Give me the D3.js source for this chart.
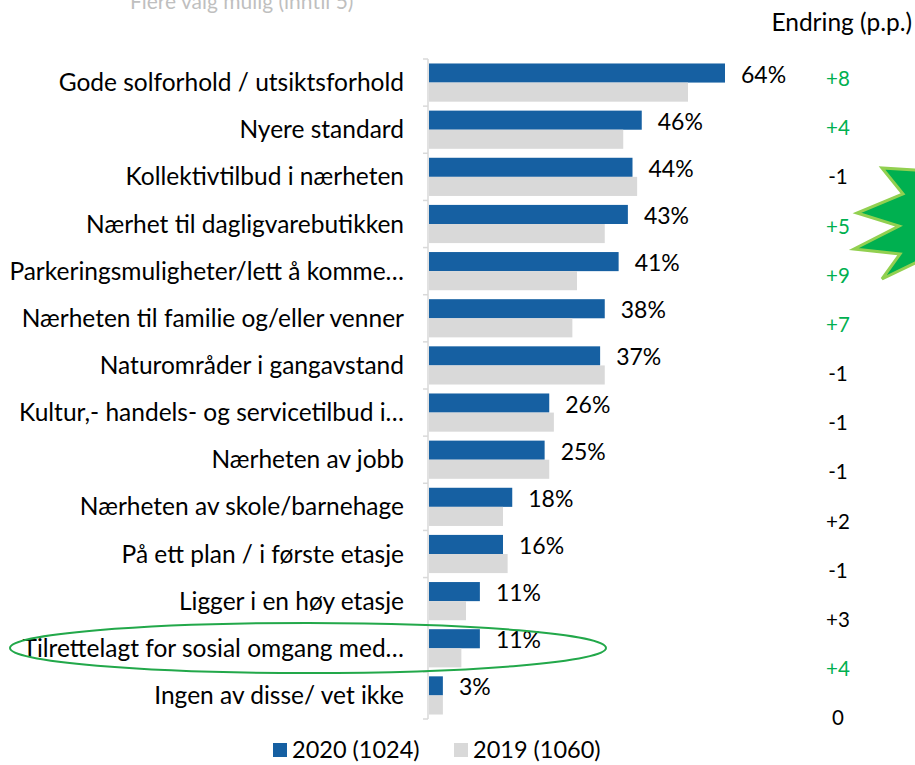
<!DOCTYPE html>
<html>
<head>
<meta charset="utf-8">
<title></title>
<script src="https://d3js.org/d3.v7.min.js"></script>
<style>
	body{ margin:0; background:#fff; }
	text{ font-family: Lato, "Open Sans", sans-serif; }
	.cat{ font-size:24.5px; fill:#000; }
	.val{ font-size:23px; fill:#000; }
	.chg{ font-size:20.5px; }
</style>
</head>
<body>
<svg width="915" height="765"></svg>
<script>
// data
var categories = [
	'Gode solforhold / utsiktsforhold',
	'Nyere standard',
	'Kollektivtilbud i nærheten',
	'Nærhet til dagligvarebutikken',
	'Parkeringsmuligheter/lett å komme…',
	'Nærheten til familie og/eller venner',
	'Naturområder i gangavstand',
	'Kultur,- handels- og servicetilbud i…',
	'Nærheten av jobb',
	'Nærheten av skole/barnehage',
	'På ett plan / i første etasje',
	'Ligger i en høy etasje',
	'Tilrettelagt for sosial omgang med…',
	'Ingen av disse/ vet ikke'
];
var values2020 = [64, 46, 44, 43, 41, 38, 37, 26, 25, 18, 16, 11, 11, 3];
var values2019 = [56, 42, 45, 38, 32, 31, 38, 27, 26, 16, 17, 8, 7, 3];
var changes = ['+8', '+4', '-1', '+5', '+9', '+7', '-1', '-1', '-1', '+2', '-1', '+3', '+4', '0'];
var significant = [true, true, false, true, true, true, false, false, false, false, false, false, true, false];
var series = ['2020 (1024)', '2019 (1060)'];

var blue = '#1660a2', grey = '#d9d9d9', green = '#00b050';

var svg = d3.select('svg');

var x = d3.scaleLinear().domain([0, 64]).range([428, 724]);
var y = d3.scaleBand().domain(categories).range([59, 719]).paddingInner(0.19).paddingOuter(0.095);
var ySub = d3.scaleBand().domain(series).range([0, y.bandwidth()]);
var yChg = d3.scalePoint().domain(categories).range([79, 718]);

// faded subtitle, cut at the top
svg.append('text')
	.attr('x', 130).attr('y', 9)
	.style('font-size', '21px').style('fill', '#bfbfbf')
	.text('Flere valg mulig (inntil 5)');

svg.append('text')
	.attr('x', 912).attr('y', 31)
	.attr('text-anchor', 'end')
	.style('font-size', '24.5px')
	.text('Endring (p.p.)');

// axis with ticks between categories
var half = (y.step() - y.bandwidth()) / 2;
var axisG = svg.append('g');
axisG.append('line')
	.attr('x1', 428).attr('x2', 428)
	.attr('y1', y.range()[0]).attr('y2', y.range()[1])
	.attr('stroke', '#d9d9d9').attr('stroke-width', 1.5);
var tickYs = categories.map(function(c){ return y(c) - half; }).concat([y.range()[1]]);
axisG.selectAll('.tk').data(tickYs).enter().append('line')
	.attr('x1', 423).attr('x2', 428)
	.attr('y1', function(d){ return d; }).attr('y2', function(d){ return d; })
	.attr('stroke', '#d9d9d9').attr('stroke-width', 1.5);

var rows = categories.map(function(c, i){
	return { cat: c, v20: values2020[i], v19: values2019[i], chg: changes[i], sig: significant[i] };
});

var g = svg.selectAll('.row').data(rows).enter().append('g')
	.attr('class', 'row')
	.attr('transform', function(d){ return 'translate(0,' + y(d.cat) + ')'; });

g.append('rect')
	.attr('x', x(0) + 1)
	.attr('y', ySub(series[0]))
	.attr('width', function(d){ return x(d.v20) - x(0); })
	.attr('height', ySub.bandwidth())
	.attr('fill', blue);

g.append('rect')
	.attr('x', x(0) + 1)
	.attr('y', ySub(series[1]))
	.attr('width', function(d){ return x(d.v19) - x(0); })
	.attr('height', ySub.bandwidth())
	.attr('fill', grey);

g.append('text')
	.attr('class', 'val')
	.attr('x', function(d){ return x(d.v20) + 17; })
	.attr('y', y.bandwidth() / 2 - 8)
	.attr('dy', '.35em')
	.text(function(d){ return d.v20 + '%'; });

g.append('text')
	.attr('class', 'cat')
	.attr('x', 404)
	.attr('y', y.bandwidth() / 2)
	.attr('dy', '.35em')
	.attr('text-anchor', 'end')
	.text(function(d){ return d.cat; });

svg.selectAll('.chg').data(rows).enter().append('text')
	.attr('class', 'chg')
	.attr('x', 838)
	.attr('y', function(d){ return yChg(d.cat); })
	.attr('dy', '.35em')
	.attr('text-anchor', 'middle')
	.style('fill', function(d){ return d.sig ? green : '#000'; })
	.text(function(d){ return d.chg; });

// starburst callout on the right edge
var star = [[882,168],[903,194],[857,213],[899,226],[854,249],[900,254],[882,279],[915,263],[930,263],[930,170],[915,170]];
svg.append('polygon')
	.attr('points', star.map(function(p){ return p.join(','); }).join(' '))
	.attr('fill', green)
	.attr('stroke', '#92d050')
	.attr('stroke-width', 3)
	.attr('stroke-linejoin', 'miter');

// highlight ellipse
svg.append('ellipse')
	.attr('cx', 308).attr('cy', 648)
	.attr('rx', 298).attr('ry', 25)
	.attr('fill', 'none')
	.attr('stroke', '#22a84a')
	.attr('stroke-width', 2);

// legend
var leg = svg.append('g').attr('transform', 'translate(273,750)');
var legX = [0, 181];
series.forEach(function(s, i){
	leg.append('rect')
		.attr('x', legX[i]).attr('y', -7)
		.attr('width', 14).attr('height', 14)
		.attr('fill', i === 0 ? blue : grey);
	leg.append('text')
		.attr('x', legX[i] + 19).attr('y', 0)
		.attr('dy', '.35em')
		.style('font-size', '23.5px')
		.text(s);
});
</script>
</body>
</html>
